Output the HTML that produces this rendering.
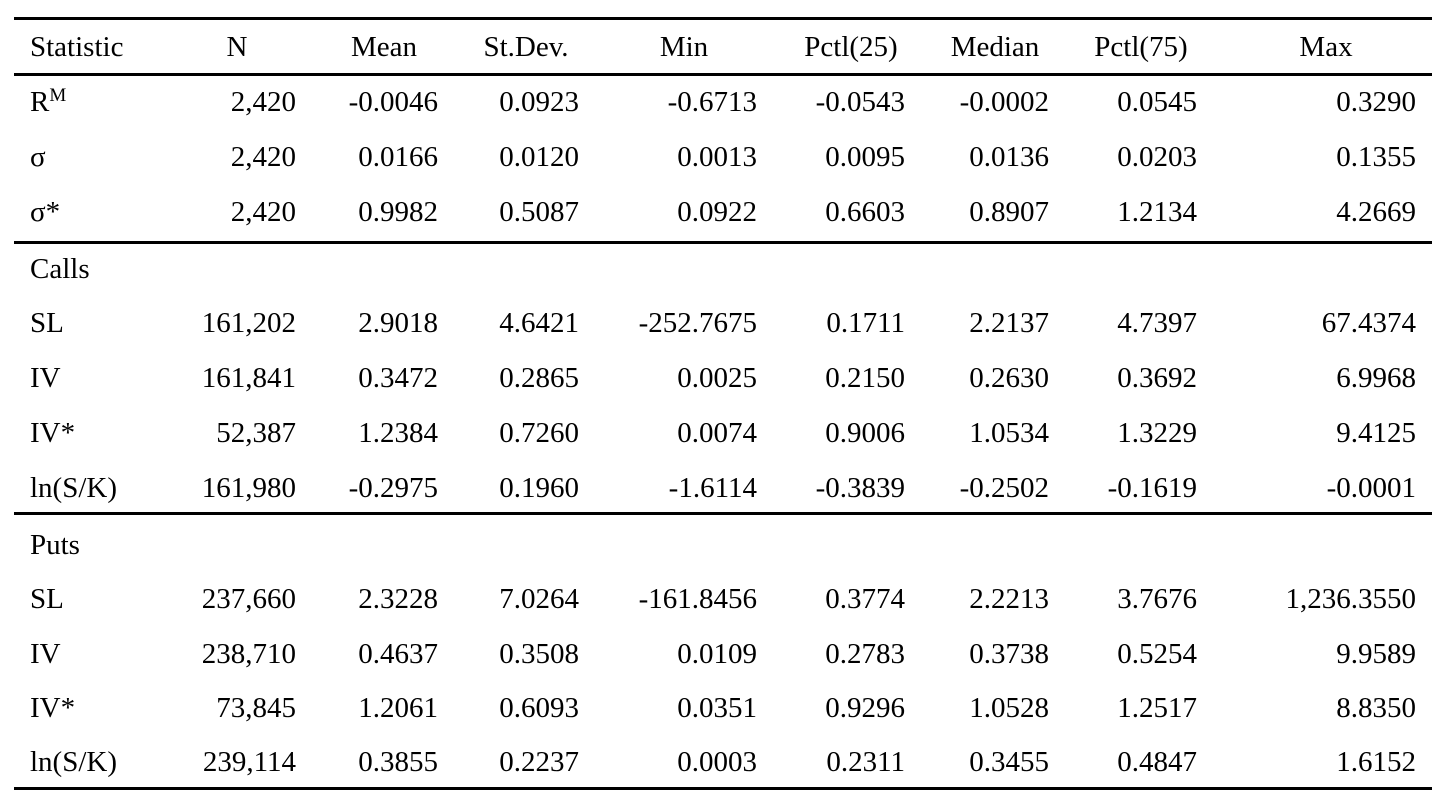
<!DOCTYPE html>
<html><head><meta charset="utf-8"><style>
body{margin:0;width:1453px;height:810px;background:#fff;position:relative;overflow:hidden;font-family:"Liberation Serif",serif;font-size:29px;color:#000}
.l{position:absolute;left:14px;width:1418px;height:3px;background:#000}
.r{position:absolute;left:0;width:1453px;height:40px;line-height:40px}
.r span{position:absolute;top:0;white-space:nowrap}
.s{left:30px}
.c{transform:translateX(-50%)}
sup{font-size:19px;vertical-align:10px;line-height:0}
</style></head><body>
<div class="l" style="top:17px"></div>
<div class="l" style="top:73px"></div>
<div class="l" style="top:241px"></div>
<div class="l" style="top:512px"></div>
<div class="l" style="top:787px"></div>
<div class="r" style="top:27px">
<span class="s">Statistic</span>
<span class="c" style="left:237px">N</span>
<span class="c" style="left:384px">Mean</span>
<span class="c" style="left:526px">St.Dev.</span>
<span class="c" style="left:684px">Min</span>
<span class="c" style="left:851px">Pctl(25)</span>
<span class="c" style="left:995px">Median</span>
<span class="c" style="left:1141px">Pctl(75)</span>
<span class="c" style="left:1326px">Max</span>
</div>
<div id="rows"></div>
<script>
var R=[
[102,"R<sup>M</sup>","2,420","-0.0046","0.0923","-0.6713","-0.0543","-0.0002","0.0545","0.3290"],
[157,"σ","2,420","0.0166","0.0120","0.0013","0.0095","0.0136","0.0203","0.1355"],
[212,"σ*","2,420","0.9982","0.5087","0.0922","0.6603","0.8907","1.2134","4.2669"],
[269,"Calls"],
[323,"SL","161,202","2.9018","4.6421","-252.7675","0.1711","2.2137","4.7397","67.4374"],
[378,"IV","161,841","0.3472","0.2865","0.0025","0.2150","0.2630","0.3692","6.9968"],
[433,"IV*","52,387","1.2384","0.7260","0.0074","0.9006","1.0534","1.3229","9.4125"],
[488,"ln(S/K)","161,980","-0.2975","0.1960","-1.6114","-0.3839","-0.2502","-0.1619","-0.0001"],
[545,"Puts"],
[599,"SL","237,660","2.3228","7.0264","-161.8456","0.3774","2.2213","3.7676","1,236.3550"],
[654,"IV","238,710","0.4637","0.3508","0.0109","0.2783","0.3738","0.5254","9.9589"],
[708,"IV*","73,845","1.2061","0.6093","0.0351","0.9296","1.0528","1.2517","8.8350"],
[762,"ln(S/K)","239,114","0.3855","0.2237","0.0003","0.2311","0.3455","0.4847","1.6152"]];
var E=[296,438,579,757,905,1049,1197,1416],h="";
R.forEach(function(r){h+='<div class="r" style="top:'+(r[0]-20)+'px"><span class="s">'+r[1]+'</span>';
for(var i=2;i<r.length;i++)h+='<span style="right:'+(1453-E[i-2])+'px">'+r[i]+'</span>';h+='</div>';});
document.getElementById("rows").innerHTML=h;
</script>
</body></html>
